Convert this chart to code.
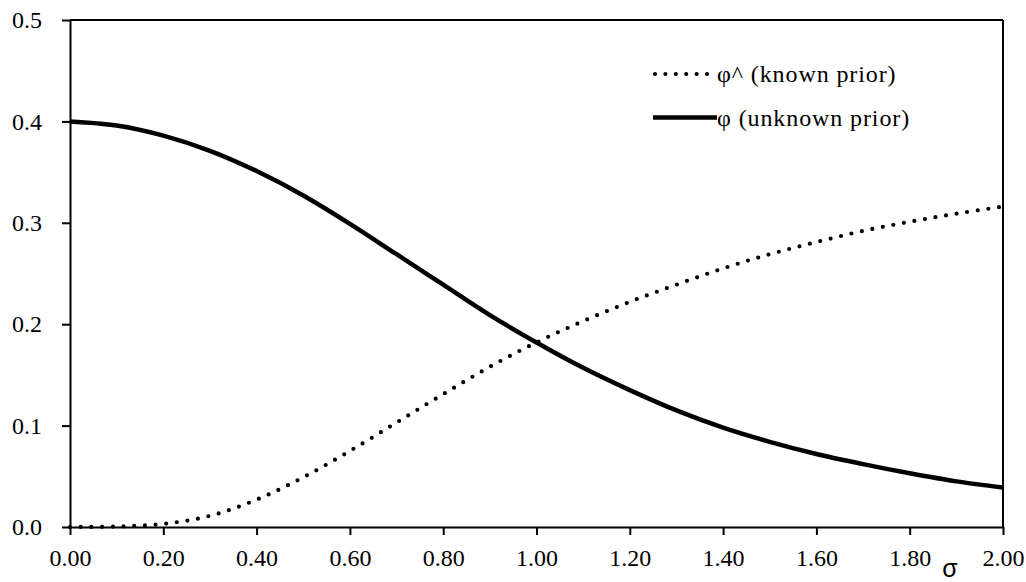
<!DOCTYPE html>
<html>
<head>
<script src="https://cdn.jsdelivr.net/npm/d3@7"></script>
</head>
<body style="margin:0">
<script>
// values
const sigma = [0.0, 0.1, 0.2, 0.3, 0.4, 0.5, 0.6, 0.7, 0.8, 0.9, 1.0, 1.1, 1.2, 1.3, 1.4, 1.5, 1.6, 1.7, 1.8, 1.9, 2.0];
const phiKnown = [0.000, 0.0005, 0.003, 0.011, 0.027, 0.049, 0.075, 0.103, 0.131, 0.158, 0.182, 0.203, 0.222, 0.239, 0.255, 0.269, 0.281, 0.292, 0.301, 0.309, 0.316];
const phiUnknown = [0.400, 0.396, 0.386, 0.371, 0.351, 0.327, 0.299, 0.269, 0.239, 0.209, 0.182, 0.157, 0.135, 0.115, 0.098, 0.084, 0.072, 0.062, 0.053, 0.045, 0.039];
const xTicks = [0, 0.2, 0.4, 0.6, 0.8, 1.0, 1.2, 1.4, 1.6, 1.8, 2.0];
const yTicks = [0, 0.1, 0.2, 0.3, 0.4, 0.5];
const legendLabels = ['φ^ (known prior)', 'φ (unknown prior)'];

const fontFamily = 'Liberation Serif';

const margin = {
	top: 20,
	right: 23,
	bottom: 55,
	left: 70,
};
const width = 1026 - margin.left - margin.right;
const height = 582 - margin.top - margin.bottom;

const svg = d3
	.select('body')
	.append('svg')
	.attr('width', width + margin.left + margin.right)
	.attr('height', height + margin.top + margin.bottom)
	.append('g')
	.attr('transform', `translate(${margin.left},${margin.top})`);

const xscale = d3
	.scaleLinear()
	.domain([0, 2])
	.range([0, width]);

const yscale = d3
	.scaleLinear()
	.domain([0, 0.5])
	.range([height, 0]);

const xAxis = d3
	.axisBottom(xscale)
	.tickValues(xTicks)
	.tickSize(8)
	.tickSizeOuter(0)
	.tickPadding(14)
	.tickFormat(d3.format('.2f'));

const yAxis = d3
	.axisLeft(yscale)
	.tickValues(yTicks)
	.tickSize(8)
	.tickSizeOuter(0)
	.tickPadding(20)
	.tickFormat(d3.format('.1f'));

// frame: top and right edges
svg
	.append('line')
	.attr('x1', 0)
	.attr('x2', width)
	.attr('y1', 0)
	.attr('y2', 0)
	.attr('stroke', '#000')
	.attr('stroke-width', 2);

svg
	.append('line')
	.attr('x1', width)
	.attr('x2', width)
	.attr('y1', 0)
	.attr('y2', height)
	.attr('stroke', '#000')
	.attr('stroke-width', 2);

svg
	.append('g')
	.attr('class', 'x axis')
	.attr('transform', `translate(0,${height})`)
	.call(xAxis);

svg
	.append('g')
	.attr('class', 'y axis')
	.call(yAxis);

svg
	.selectAll('.axis path, .axis line')
	.attr('stroke', '#000')
	.attr('stroke-width', 2);

svg
	.selectAll('.axis text')
	.attr('fill', '#000')
	.attr('font-family', fontFamily)
	.attr('font-size', 24);

const line = d3
	.line()
	.x((d, i) => xscale(sigma[i]))
	.y(d => yscale(d))
	.curve(d3.curveCatmullRom.alpha(0.5));

svg
	.append('path')
	.datum(phiUnknown)
	.attr('d', line)
	.attr('fill', 'none')
	.attr('stroke', '#000')
	.attr('stroke-width', 4.5);

svg
	.append('path')
	.datum(phiKnown)
	.attr('d', line)
	.attr('fill', 'none')
	.attr('stroke', '#000')
	.attr('stroke-width', 4.2)
	.attr('stroke-linecap', 'round')
	.attr('stroke-dasharray', '0 10.7');

// legend
const legend = svg
	.selectAll('.legend')
	.data(legendLabels)
	.enter()
	.append('g')
	.attr('class', 'legend')
	.attr('transform', (d, i) => `translate(583,${54 + i * 43.5})`);

legend
	.append('line')
	.attr('x1', (d, i) => (i === 0 ? 2 : 0))
	.attr('x2', (d, i) => (i === 0 ? 54 : 64))
	.attr('stroke', '#000')
	.attr('stroke-width', (d, i) => (i === 0 ? 4.2 : 4.5))
	.attr('stroke-linecap', (d, i) => (i === 0 ? 'round' : 'butt'))
	.attr('stroke-dasharray', (d, i) => (i === 0 ? '0 10.4' : null));

legend
	.append('text')
	.attr('x', 64)
	.attr('y', 8)
	.attr('font-family', fontFamily)
	.attr('font-size', 24)
	.attr('letter-spacing', 0.9)
	.text(d => d);

svg
	.append('text')
	.attr('x', 880)
	.attr('y', height + 50)
	.attr('text-anchor', 'middle')
	.attr('font-family', 'Liberation Sans')
	.attr('font-size', 25)
	.text('σ');
</script>
</body>
</html>
